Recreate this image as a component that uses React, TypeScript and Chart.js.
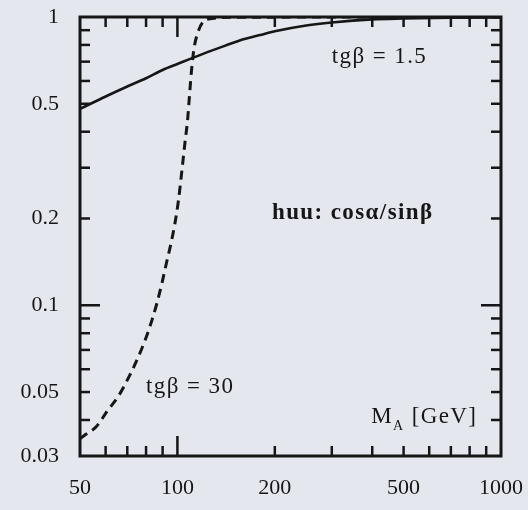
import React, { useEffect, useRef } from "react";
import { Chart, registerables } from "chart.js";

Chart.register(...registerables);

// Axis tick values (log-log frame)
const massTicks = [50, 100, 200, 500, 1000];
const ratioTicks = [0.03, 0.05, 0.1, 0.2, 0.5, 1];
const massMajorMarks = [100];
const massMinorMarks = [60, 70, 80, 90, 200, 300, 400, 500, 600, 700, 800, 900];
const ratioMajorMarks = [0.1];
const ratioMinorMarks = [0.04, 0.05, 0.06, 0.07, 0.08, 0.09, 0.2, 0.3, 0.4, 0.5, 0.6, 0.7, 0.8, 0.9];

// tg(beta) = 1.5 : cos(alpha)/sin(beta) versus M_A
const lowTanBetaMass = [50, 60, 70, 80, 90, 100, 120, 140, 160, 180, 200, 250, 300, 400, 500, 700, 1000];
const lowTanBetaRatio = [0.48, 0.53, 0.574, 0.613, 0.655, 0.687, 0.745, 0.794, 0.837, 0.866, 0.892, 0.934, 0.957, 0.981, 0.988, 0.994, 0.996];

// tg(beta) = 30 : cos(alpha)/sin(beta) versus M_A
const highTanBetaMass = [50, 52, 56, 61, 65.5, 70, 75, 79.5, 83.5, 86.5, 89.6, 92.5, 95.6, 98.3, 100.8, 103.3, 105.5, 107.5, 109, 110.6, 112.6, 115.8, 120, 127.8, 150, 1000];
const highTanBetaRatio = [0.0344, 0.0356, 0.0378, 0.0433, 0.0481, 0.055, 0.0646, 0.0758, 0.089, 0.102, 0.1195, 0.1402, 0.1645, 0.193, 0.232, 0.295, 0.366, 0.439, 0.536, 0.655, 0.781, 0.887, 0.961, 0.988, 0.998, 1.0];

// Text placed inside the frame, anchored at (mass, ratio), left-aligned
const noteTexts = ["tgβ = 1.5", "huu: cosα/sinβ", "tgβ = 30"];
const noteMass = [300, 196, 80];
const noteRatio = [0.727, 0.209, 0.052];
const noteBold = [false, true, false];

const axisTitleMass = 397;
const axisTitleRatio = 0.041;

const INK = "#161616";
const PAPER = "#e5e7ef";
const SERIF = "'Liberation Serif', 'Times New Roman', serif";

const frameAndNotes = {
  id: "frameAndNotes",
  afterDatasetsDraw(chart: any) {
    const { ctx, chartArea: a, scales } = chart;
    const xs = scales.x;
    const ys = scales.y;
    ctx.save();
    ctx.strokeStyle = INK;
    ctx.lineCap = "butt";
    ctx.lineWidth = 2.5;
    const seg = (x1: number, y1: number, x2: number, y2: number) => {
      ctx.beginPath();
      ctx.moveTo(x1, y1);
      ctx.lineTo(x2, y2);
      ctx.stroke();
    };
    const massMark = (v: number, len: number) => {
      const px = xs.getPixelForValue(v);
      seg(px, a.bottom, px, a.bottom - len);
      seg(px, a.top, px, a.top + len);
    };
    const ratioMark = (v: number, len: number) => {
      const py = ys.getPixelForValue(v);
      seg(a.left, py, a.left + len, py);
      seg(a.right, py, a.right - len, py);
    };
    massMinorMarks.forEach((v) => massMark(v, 10));
    massMajorMarks.forEach((v) => massMark(v, 20));
    ratioMinorMarks.forEach((v) => ratioMark(v, 10));
    ratioMajorMarks.forEach((v) => ratioMark(v, 20));

    ctx.lineWidth = 3;
    ctx.strokeRect(a.left, a.top, a.right - a.left, a.bottom - a.top);
    ctx.restore();
  },
  afterDraw(chart: any) {
    const { ctx, scales } = chart;
    const xs = scales.x;
    const ys = scales.y;
    ctx.save();
    ctx.fillStyle = INK;
    ctx.textAlign = "left";
    ctx.textBaseline = "middle";
    (ctx as any).letterSpacing = "1.4px";
    noteTexts.forEach((t, i) => {
      ctx.font = `${noteBold[i] ? "bold " : ""}23px ${SERIF}`;
      ctx.fillText(t, xs.getPixelForValue(noteMass[i]), ys.getPixelForValue(noteRatio[i]));
    });

    // M_A [GeV]
    let x = xs.getPixelForValue(axisTitleMass);
    const y = ys.getPixelForValue(axisTitleRatio);
    ctx.font = `23px ${SERIF}`;
    ctx.fillText("M", x, y);
    x += ctx.measureText("M").width;
    ctx.font = `14px ${SERIF}`;
    ctx.fillText("A", x, y + 9);
    x += ctx.measureText("A").width;
    ctx.font = `23px ${SERIF}`;
    ctx.fillText(" [GeV]", x, y);
    ctx.restore();
  },
};

export default function App() {
  const canvasRef = useRef<HTMLCanvasElement | null>(null);

  useEffect(() => {
    if (!canvasRef.current) return;
    const chart = new Chart(canvasRef.current, {
      type: "line",
      data: {
        datasets: [
          {
            label: "tgβ = 1.5",
            data: lowTanBetaMass.map((m, i) => ({ x: m, y: lowTanBetaRatio[i] })),
            borderColor: INK,
            borderWidth: 2.6,
            pointRadius: 0,
            cubicInterpolationMode: "monotone",
            fill: false,
          },
          {
            label: "tgβ = 30",
            data: highTanBetaMass.map((m, i) => ({ x: m, y: highTanBetaRatio[i] })),
            borderColor: INK,
            borderWidth: 3,
            borderDash: [9, 6],
            pointRadius: 0,
            cubicInterpolationMode: "monotone",
            fill: false,
          },
        ],
      },
      options: {
        responsive: false,
        animation: false,
        devicePixelRatio: 1,
        layout: { padding: { top: 17, right: 27, left: 0, bottom: 0 } },
        plugins: {
          legend: { display: false },
          tooltip: { enabled: false },
        },
        scales: {
          x: {
            type: "logarithmic",
            min: 50,
            max: 1000,
            afterBuildTicks: (s: any) => {
              s.ticks = massTicks.map((v) => ({ value: v }));
            },
            afterFit: (s: any) => {
              s.height = 54;
              s.paddingLeft = 0;
              s.paddingRight = 0;
            },
            ticks: {
              autoSkip: false,
              maxRotation: 0,
              padding: 19,
              color: INK,
              font: { family: SERIF, size: 22 },
              callback: (v: any) => String(v),
            },
            grid: { display: false, drawTicks: false },
            border: { display: false },
          },
          y: {
            type: "logarithmic",
            min: 0.03,
            max: 1,
            afterBuildTicks: (s: any) => {
              s.ticks = ratioTicks.map((v) => ({ value: v }));
            },
            afterFit: (s: any) => {
              s.width = 80;
              s.paddingTop = 0;
              s.paddingBottom = 0;
            },
            ticks: {
              autoSkip: false,
              padding: 21,
              color: INK,
              font: { family: SERIF, size: 22 },
              callback: (v: any) => String(v),
            },
            grid: { display: false, drawTicks: false },
            border: { display: false },
          },
        },
      },
      plugins: [frameAndNotes],
    });
    return () => chart.destroy();
  }, []);

  return (
    <div style={{ position: "fixed", left: 0, top: 0, width: 528, height: 510, background: PAPER }}>
      <canvas ref={canvasRef} width={528} height={510} style={{ display: "block" }} />
    </div>
  );
}
